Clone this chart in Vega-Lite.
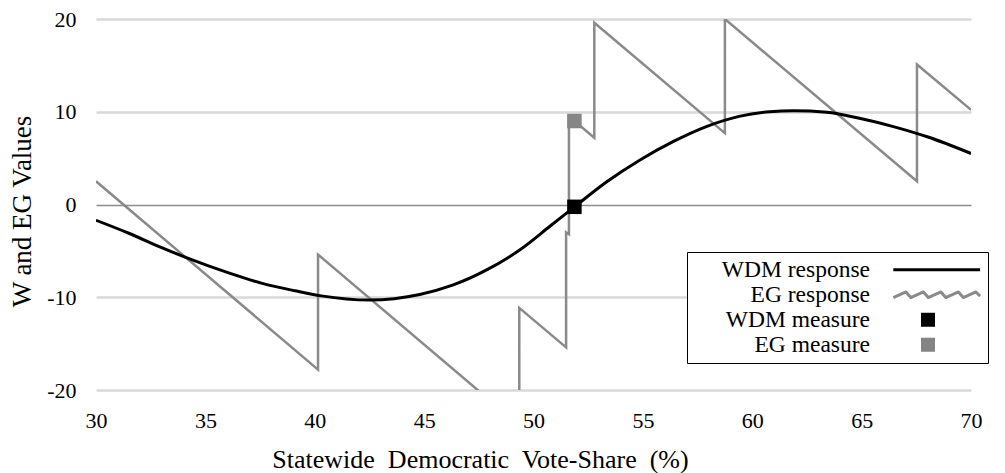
{
  "$schema": "https://vega.github.io/schema/vega-lite/v6.json",
  "autosize": "none",
  "width": 875,
  "height": 371,
  "padding": {"left": 96, "top": 19, "right": 34, "bottom": 83},
  "background": "white",
  "data": {
    "values": [
      {"series": "EG response", "i": 0, "x": 30, "y": 2.5},
      {"series": "EG response", "i": 1, "x": 40.15, "y": -17.8},
      {"series": "EG response", "i": 2, "x": 40.15, "y": -5.4},
      {"series": "EG response", "i": 3, "x": 49.35, "y": -23.8},
      {"series": "EG response", "i": 4, "x": 49.35, "y": -11.15},
      {"series": "EG response", "i": 5, "x": 51.49, "y": -15.4},
      {"series": "EG response", "i": 6, "x": 51.49, "y": -3.0},
      {"series": "EG response", "i": 7, "x": 51.62, "y": -3.2},
      {"series": "EG response", "i": 8, "x": 51.62, "y": 9.5},
      {"series": "EG response", "i": 9, "x": 52.78, "y": 7.2},
      {"series": "EG response", "i": 10, "x": 52.78, "y": 19.6},
      {"series": "EG response", "i": 11, "x": 58.75, "y": 7.7},
      {"series": "EG response", "i": 12, "x": 58.75, "y": 20.0},
      {"series": "EG response", "i": 13, "x": 67.53, "y": 2.5},
      {"series": "EG response", "i": 14, "x": 67.53, "y": 15.1},
      {"series": "EG response", "i": 15, "x": 70, "y": 10.2},
      {"series": "WDM response", "i": 0, "x": 30, "y": -1.7},
      {"series": "WDM response", "i": 1, "x": 31.5, "y": -3.1},
      {"series": "WDM response", "i": 2, "x": 33, "y": -4.65},
      {"series": "WDM response", "i": 3, "x": 34.1, "y": -5.7},
      {"series": "WDM response", "i": 4, "x": 36.1, "y": -7.4},
      {"series": "WDM response", "i": 5, "x": 37.6, "y": -8.5},
      {"series": "WDM response", "i": 6, "x": 39.1, "y": -9.3},
      {"series": "WDM response", "i": 7, "x": 40.3, "y": -9.85},
      {"series": "WDM response", "i": 8, "x": 42.5, "y": -10.3},
      {"series": "WDM response", "i": 9, "x": 44.8, "y": -9.7},
      {"series": "WDM response", "i": 10, "x": 46.3, "y": -8.7},
      {"series": "WDM response", "i": 11, "x": 47.9, "y": -7.0},
      {"series": "WDM response", "i": 12, "x": 49.4, "y": -4.85},
      {"series": "WDM response", "i": 13, "x": 50.75, "y": -2.35},
      {"series": "WDM response", "i": 14, "x": 51.9, "y": -0.2},
      {"series": "WDM response", "i": 15, "x": 53.35, "y": 2.45},
      {"series": "WDM response", "i": 16, "x": 54.87, "y": 4.8},
      {"series": "WDM response", "i": 17, "x": 56.4, "y": 6.8},
      {"series": "WDM response", "i": 18, "x": 57.9, "y": 8.4},
      {"series": "WDM response", "i": 19, "x": 59.4, "y": 9.5},
      {"series": "WDM response", "i": 20, "x": 60.8, "y": 10.0},
      {"series": "WDM response", "i": 21, "x": 61.9, "y": 10.1},
      {"series": "WDM response", "i": 22, "x": 63.4, "y": 9.95},
      {"series": "WDM response", "i": 23, "x": 64.9, "y": 9.3},
      {"series": "WDM response", "i": 24, "x": 66.45, "y": 8.4},
      {"series": "WDM response", "i": 25, "x": 68, "y": 7.3},
      {"series": "WDM response", "i": 26, "x": 70, "y": 5.5},
      {"series": "EG measure", "i": 0, "x": 51.87, "y": 9.0},
      {"series": "WDM measure", "i": 0, "x": 51.87, "y": -0.25}
    ]
  },
  "encoding": {
    "x": {
      "field": "x", "type": "quantitative",
      "scale": {"domain": [30, 70], "nice": false, "zero": false},
      "axis": {
        "values": [30, 35, 40, 45, 50, 55, 60, 65, 70],
        "grid": false, "domain": false, "ticks": false, "tickSize": 0,
        "labelFontSize": 22, "labelPadding": 37, "labelBaseline": "alphabetic",
        "labelFlush": false, "labelOverlap": false,
        "title": "Statewide\u00a0 Democratic\u00a0 Vote-Share\u00a0 (%)",
        "titleFontSize": 26, "titleX": 384, "titleY": 77, "titleBaseline": "alphabetic", "titleAlign": "center"
      }
    },
    "y": {
      "field": "y", "type": "quantitative",
      "scale": {"domain": [-20, 20], "nice": false, "zero": false},
      "axis": {
        "values": [-20, -10, 0, 10, 20],
        "grid": true,
        "gridColor": {"condition": {"test": "datum.value === 0", "value": "#8c8c8c"}, "value": "#d9d9d9"},
        "gridWidth": {"condition": {"test": "datum.value === 0", "value": 1.5}, "value": 2.5},
        "domain": false, "ticks": false, "tickSize": 0,
        "labelFontSize": 22, "labelPadding": 20, "labelExpr": "'' + datum.value",
        "title": "W and EG Values",
        "titleFontSize": 27, "titleX": -66, "titleY": 192, "titleBaseline": "alphabetic", "titleAngle": -90, "titleAlign": "center"
      }
    }
  },
  "layer": [
    {
      "transform": [{"filter": "datum.series === 'EG response'"}],
      "mark": {"type": "line", "color": "#8a8a8a", "strokeWidth": 2.5, "clip": true},
      "encoding": {"order": {"field": "i", "type": "quantitative"}}
    },
    {
      "transform": [{"filter": "datum.series === 'WDM response'"}],
      "mark": {"type": "line", "color": "#000000", "strokeWidth": 3, "interpolate": "monotone", "clip": true},
      "encoding": {"order": {"field": "i", "type": "quantitative"}}
    },
    {
      "transform": [{"filter": "datum.series === 'EG measure'"}],
      "mark": {"type": "point", "shape": "square", "filled": true, "size": 210, "color": "#858585", "opacity": 1}
    },
    {
      "transform": [{"filter": "datum.series === 'WDM measure'"}],
      "mark": {"type": "point", "shape": "square", "filled": true, "size": 210, "color": "#000000", "opacity": 1}
    },
    {
      "transform": [{"filter": "false"}],
      "mark": {"type": "point", "filled": true, "size": 196, "strokeWidth": 3, "opacity": 1},
      "encoding": {
        "x": null, "y": null,
        "shape": {
          "field": "series", "type": "nominal",
          "scale": {
            "domain": ["WDM response", "EG response", "WDM measure", "EG measure"],
            "range": [
              "M-6.1,0H6.3",
              "M-6.1,0.4L-4.3,-0.4L-3.6,0.4L-1.8,-0.4L-1.1,0.4L0.7,-0.4L1.4,0.4L3.2,-0.4L3.9,0.4L5.7,-0.4L6.3,0.2",
              "M-2.14,-1H-0.14V1H-2.14Z",
              "M-2.14,-1H-0.14V1H-2.14Z"
            ]
          },
          "legend": {
            "orient": "none", "legendX": 591, "legendY": 233, "title": null,
            "labelAlign": "right", "labelOffset": -77.75, "symbolOffset": 231.25,
            "symbolSize": 196, "symbolStrokeWidth": 3, "padding": 6, "rowPadding": 0,
            "strokeColor": "#000000", "fillColor": "white",
            "labelFontSize": 23.5, "labelLimit": 400, "labelColor": "black", "symbolOpacity": 1,
            "encode": {"symbols": {"update": {"strokeJoin": {"value": "round"}}}}
          }
        },
        "fill": {
          "field": "series", "type": "nominal",
          "scale": {
            "domain": ["WDM response", "EG response", "WDM measure", "EG measure"],
            "range": ["transparent", "transparent", "#000000", "#858585"]
          },
          "legend": {
            "orient": "none", "legendX": 591, "legendY": 233, "title": null,
            "labelAlign": "right", "labelOffset": -77.75, "symbolOffset": 231.25,
            "symbolSize": 196, "symbolStrokeWidth": 3, "padding": 6, "rowPadding": 0,
            "strokeColor": "#000000", "fillColor": "white",
            "labelFontSize": 23.5, "labelLimit": 400, "labelColor": "black", "symbolOpacity": 1,
            "encode": {"symbols": {"update": {"strokeJoin": {"value": "round"}}}}
          }
        },
        "stroke": {
          "field": "series", "type": "nominal",
          "scale": {
            "domain": ["WDM response", "EG response", "WDM measure", "EG measure"],
            "range": ["#000000", "#8a8a8a", "", ""]
          },
          "legend": {
            "orient": "none", "legendX": 591, "legendY": 233, "title": null,
            "labelAlign": "right", "labelOffset": -77.75, "symbolOffset": 231.25,
            "symbolSize": 196, "symbolStrokeWidth": 3, "padding": 6, "rowPadding": 0,
            "strokeColor": "#000000", "fillColor": "white",
            "labelFontSize": 23.5, "labelLimit": 400, "labelColor": "black", "symbolOpacity": 1,
            "encode": {"symbols": {"update": {"strokeJoin": {"value": "round"}}}}
          }
        }
      }
    }
  ],
  "config": {
    "font": "Liberation Serif",
    "view": {"stroke": null},
    "axis": {"labelColor": "black", "titleColor": "black", "titleFontWeight": "normal", "labelFont": "Liberation Serif", "titleFont": "Liberation Serif"},
    "legend": {"labelFont": "Liberation Serif"}
  }
}
